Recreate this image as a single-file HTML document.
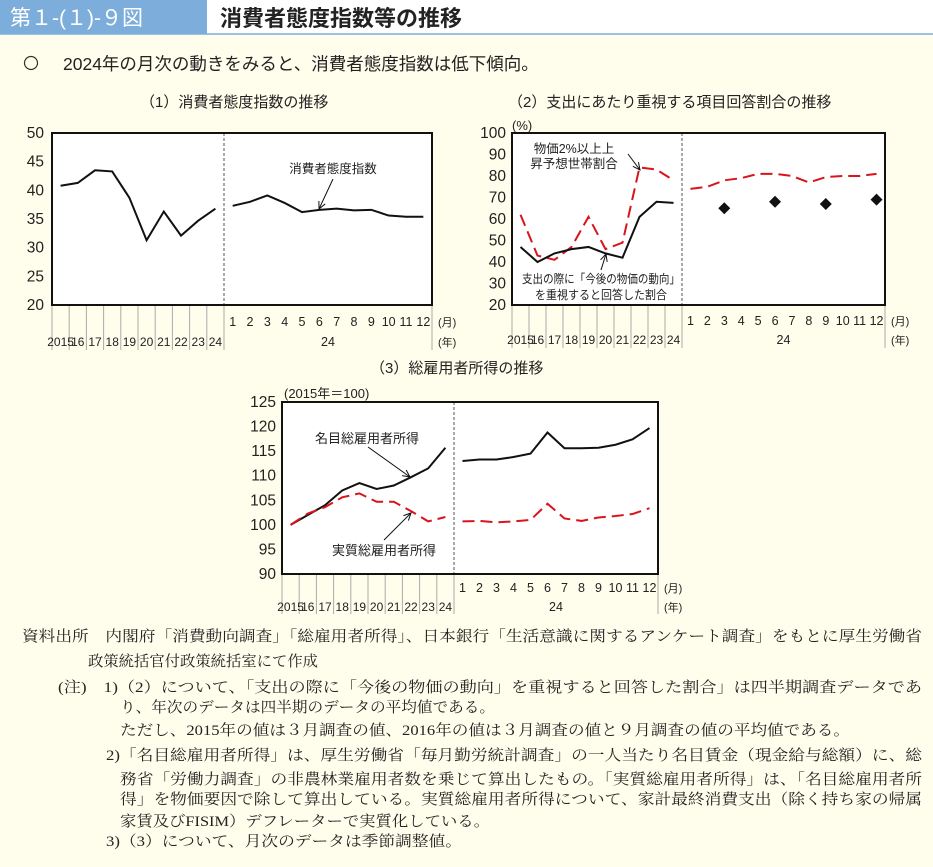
<!DOCTYPE html>
<html><head><meta charset="utf-8">
<style>
body{margin:0;background:#FFFDEB;}
svg{display:block;font-family:"Liberation Sans","Noto Sans CJK JP",sans-serif;}
.nt{font-family:"Liberation Serif","Noto Serif CJK SC",serif;font-size:15px;fill:#222;}
</style></head>
<body>
<svg id="s" width="933" height="867" viewBox="0 0 933 867" xmlns="http://www.w3.org/2000/svg">
<rect x="0" y="0" width="933" height="867" fill="#FFFDEB"/>
<rect x="0" y="0" width="207" height="34" fill="#7DAEDB"/>
<rect x="207" y="0" width="726" height="34" fill="#fff"/>
<line x1="0" y1="34" x2="933" y2="34" stroke="#7DAEDB" stroke-width="1.5"/>
<text x="10" y="25" font-size="21" fill="#fff">第１-(１)-９図</text>
<text x="220" y="26" font-size="22" font-weight="bold" fill="#222">消費者態度指数等の推移</text>
<circle cx="31" cy="63" r="6.5" fill="none" stroke="#333" stroke-width="1.2"/>
<text x="63" y="70" font-size="17.5" fill="#222">2024年の月次の動きをみると、消費者態度指数は低下傾向。</text>
<text x="140" y="107" font-size="15" fill="#222">（1）消費者態度指数の推移</text>
<text x="508" y="107" font-size="15" fill="#222">（2）支出にあたり重視する項目回答割合の推移</text>
<text x="370" y="373" font-size="15" fill="#222">（3）総雇用者所得の推移</text>
<text x="512" y="130" font-size="13" fill="#222">(%)</text>
<text x="284" y="398" font-size="13" fill="#222">(2015年＝100)</text>
<g id="c1"></g>
<g id="c2"></g>
<g id="c3"></g>
<g>
<text class="nt" x="22" y="641" textLength="900" lengthAdjust="spacingAndGlyphs">資料出所　内閣府「消費動向調査」「総雇用者所得」、日本銀行「生活意識に関するアンケート調査」をもとに厚生労働省</text>
<text class="nt" x="88" y="666" textLength="230" lengthAdjust="spacingAndGlyphs">政策統括官付政策統括室にて作成</text>
<text class="nt" x="58" y="692" textLength="864" lengthAdjust="spacingAndGlyphs">(注)　1)（2）について、「支出の際に「今後の物価の動向」を重視すると回答した割合」は四半期調査データであ</text>
<text class="nt" x="120" y="712" textLength="375" lengthAdjust="spacingAndGlyphs">り、年次のデータは四半期のデータの平均値である。</text>
<text class="nt" x="120" y="735" textLength="730" lengthAdjust="spacingAndGlyphs">ただし、2015年の値は３月調査の値、2016年の値は３月調査の値と９月調査の値の平均値である。</text>
<text class="nt" x="106" y="760" textLength="816" lengthAdjust="spacingAndGlyphs">2)「名目総雇用者所得」は、厚生労働省「毎月勤労統計調査」の一人当たり名目賃金（現金給与総額）に、総</text>
<text class="nt" x="120" y="784" textLength="802" lengthAdjust="spacingAndGlyphs">務省「労働力調査」の非農林業雇用者数を乗じて算出したもの。「実質総雇用者所得」は、「名目総雇用者所</text>
<text class="nt" x="120" y="804" textLength="802" lengthAdjust="spacingAndGlyphs">得」を物価要因で除して算出している。実質総雇用者所得について、家計最終消費支出（除く持ち家の帰属</text>
<text class="nt" x="120" y="826" textLength="370" lengthAdjust="spacingAndGlyphs">家賃及びFISIM）デフレーターで実質化している。</text>
<text class="nt" x="106" y="846" textLength="356" lengthAdjust="spacingAndGlyphs">3)（3）について、月次のデータは季節調整値。</text>
</g>
</svg>
<script>
const years=["2015","16","17","18","19","20","21","22","23","24"];
const months=["1","2","3","4","5","6","7","8","9","10","11","12"];
const c1Ticks=[20,25,30,35,40,45,50];
const c1Annual=[40.8,41.3,43.5,43.3,38.7,31.3,36.3,32.1,34.7,36.8];
const c1Monthly=[37.3,38.0,39.1,37.8,36.2,36.6,36.8,36.5,36.6,35.6,35.4,35.4];
const c2Ticks=[20,30,40,50,60,70,80,90,100];
const c2InflAnnual=[62,43,41,47,61,46,49,84,83,78];
const c2InflMonthly=[74,75,78,79,81,81,80,77,79.5,80,80,81];
const c2SpendAnnual=[47,40,44,46,47,44,42,61,68,67.5];
const c2SpendQuarterly=[null,null,65,null,null,68,null,null,67,null,null,69];
const c3Ticks=[90,95,100,105,110,115,120,125];
const c3NomAnnual=[100,102,104,107,108.5,107.3,108,109.7,111.5,115.7];
const c3NomMonthly=[113,113.3,113.3,113.8,114.5,118.8,115.6,115.6,115.7,116.3,117.4,119.7];
const c3RealAnnual=[100,102.3,103.6,105.6,106.4,104.7,104.7,102.8,100.7,101.6];
const c3RealMonthly=[100.7,100.8,100.5,100.7,101,104.3,101.3,100.8,101.5,101.8,102.2,103.4];

const NS="http://www.w3.org/2000/svg";
function mk(p,tag,at,txt){const e=document.createElementNS(NS,tag);for(const k in at)e.setAttribute(k,at[k]);if(txt!=null)e.textContent=txt;p.appendChild(e);return e;}

function chart(g,o){
  const xA=i=>o.x0+(o.xd-o.x0)/10*(i+0.5);
  const xM=i=>o.xd+(o.x1-o.xd)/12*(i+0.5);
  const y=v=>o.yb-(v-o.ymin)/(o.ymax-o.ymin)*(o.yb-o.yt);
  const bg=mk(g,'rect',{x:o.x0,y:o.yt,width:o.x1-o.x0,height:o.yb-o.yt,fill:'#fff'});
  
  
  for(let i=0;i<=10;i++){const x=o.x0+(o.xd-o.x0)/10*i;const l=mk(g,'line',{x1:x,y1:o.yb,x2:x,y2:o.tb,stroke:'#aaa','stroke-width':1});
    }
  mk(g,'line',{x1:o.x1,y1:o.yb,x2:o.x1,y2:o.tb,stroke:'#aaa','stroke-width':1});
  mk(g,'line',{x1:o.xd,y1:o.yt,x2:o.xd,y2:o.yb,stroke:'#555','stroke-width':1,'stroke-dasharray':'3,2'});
  o.ticks.forEach(t=>{const e=mk(g,'text',{x:o.lx,y:y(t)+5,'font-size':15.5,'text-anchor':'end',fill:'#222'},t);
    });
  years.forEach((t,i)=>{const e=mk(g,'text',{x:xA(i),y:o.yy,'font-size':12,'text-anchor':'middle',fill:'#222'},t);
    });
  months.forEach((t,i)=>{const e=mk(g,'text',{x:xM(i),y:o.my,'font-size':12.5,'text-anchor':'middle',fill:'#222'},t);
    });
  const e24=mk(g,'text',{x:(o.xd+o.x1)/2,y:o.yy,'font-size':12.5,'text-anchor':'middle',fill:'#222'},'24');
  
  mk(g,'text',{x:o.x1+6,y:o.my,'font-size':11,fill:'#222'},'(月)');
  mk(g,'text',{x:o.x1+6,y:o.yy,'font-size':11,fill:'#222'},'(年)');
  o.series.forEach(s=>{
    const pa=s.a?s.a.map((v,i)=>xA(i)+','+y(v)).join(' '):null;
    const pm=s.m.map((v,i)=>v==null?null:[xM(i),y(v)]).filter(p=>p);
    if(s.diamond){pm.forEach(p=>{const d=mk(g,'path',{d:`M${p[0]},${p[1]-6} l6,6 l-6,6 l-6,-6z`,fill:'#111'});
      });}
    else{const l=mk(g,'polyline',{points:pm.map(p=>p.join(',')).join(' '),fill:'none',stroke:s.c,'stroke-width':2,'stroke-dasharray':s.dash||'none'});
      }
    if(pa){const l=mk(g,'polyline',{points:pa,fill:'none',stroke:s.c,'stroke-width':2,'stroke-dasharray':s.dash||'none'});
      }
  });
  const fr=mk(g,'rect',{x:o.x0,y:o.yt,width:o.x1-o.x0,height:o.yb-o.yt,fill:'none',stroke:'#111','stroke-width':2});
  
}
const g1=document.getElementById('c1'),g2=document.getElementById('c2'),g3=document.getElementById('c3');
chart(g1,{x0:52,x1:432,xd:224,yt:133,yb:305,ymin:20,ymax:50,ticks:c1Ticks,lx:44,tb:350,my:326,yy:346,
  series:[{name:'consumer-confidence',c:'#111',a:c1Annual,m:c1Monthly}]});
chart(g2,{x0:512,x1:885,xd:682,yt:133,yb:305,ymin:20,ymax:100,ticks:c2Ticks,lx:506,tb:348,my:325,yy:344,
  series:[{name:'inflation-expectation',c:'#D8141C',dash:'12,6',a:c2InflAnnual,m:c2InflMonthly},
          {name:'price-focus-share',c:'#111',a:c2SpendAnnual,m:c2SpendQuarterly,diamond:true}]});
chart(g3,{x0:282,x1:658,xd:454,yt:402,yb:574,ymin:90,ymax:125,ticks:c3Ticks,lx:276,tb:614,my:592,yy:611,
  series:[{name:'nominal-income',c:'#111',a:c3NomAnnual,m:c3NomMonthly},
          {name:'real-income',c:'#D8141C',dash:'12,6',a:c3RealAnnual,m:c3RealMonthly}]});
function ann(g,x,y,t,name,fs,tl){const at={x:x,y:y,'font-size':fs||12.5,'text-anchor':'middle',fill:'#222'};
  if(tl){at.textLength=tl;at.lengthAdjust='spacingAndGlyphs';}
  const e=mk(g,'text',at,t);
  }
function arrow(g,x1,y1,x2,y2){const a=Math.atan2(y2-y1,x2-x1),h=8;
  mk(g,'line',{x1:x1,y1:y1,x2:x2,y2:y2,stroke:'#111','stroke-width':1});
  mk(g,'polyline',{points:`${x2-h*Math.cos(a-0.45)},${y2-h*Math.sin(a-0.45)} ${x2},${y2} ${x2-h*Math.cos(a+0.45)},${y2-h*Math.sin(a+0.45)}`,fill:'none',stroke:'#111','stroke-width':1});}
ann(g1,333,173,'消費者態度指数','label-consumer-confidence');arrow(g1,333,179,319,209);
ann(g2,574,153,'物価2%以上上','label-inflation-1');ann(g2,574,168,'昇予想世帯割合','label-inflation-2');arrow(g2,628,154,640,170);
ann(g2,601,283,'支出の際に「今後の物価の動向」','label-price-focus-1',12,158);ann(g2,601,299,'を重視すると回答した割合','label-price-focus-2',12,132);arrow(g2,601,270,606,254);
ann(g3,367,443,'名目総雇用者所得','label-nominal',13);arrow(g3,368,447,410,477);
ann(g3,384,555,'実質総雇用者所得','label-real',13);arrow(g3,384,540,411,513);
</script>
</body></html>
